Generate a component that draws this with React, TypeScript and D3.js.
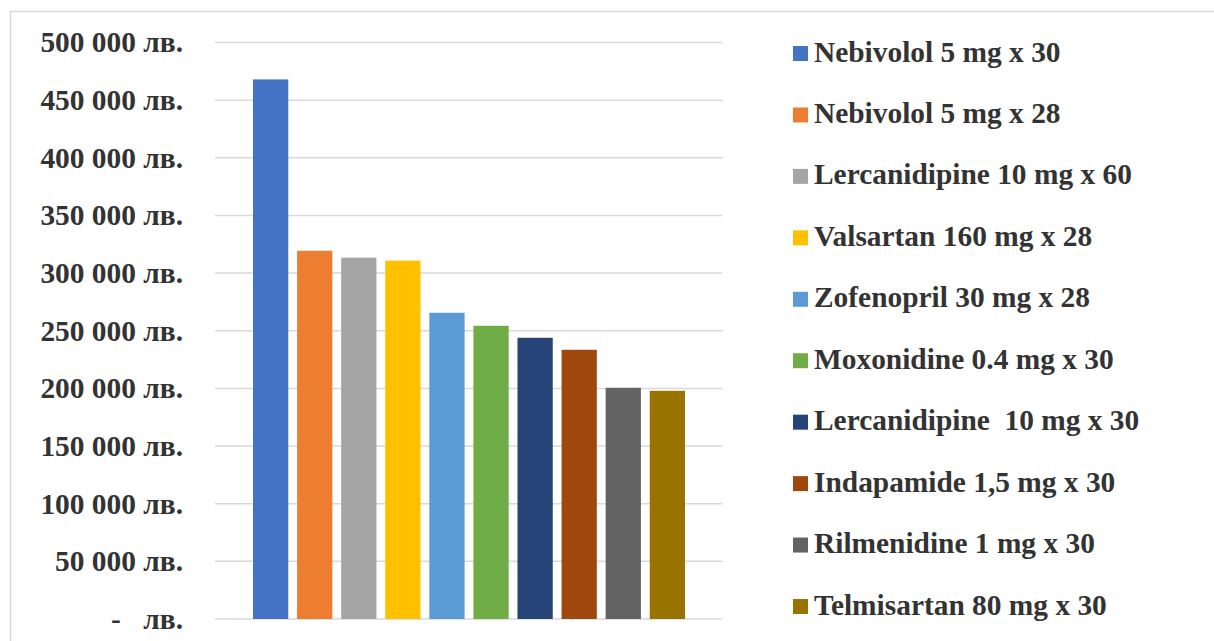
import React from "react";
import * as d3 from "d3";

const categories = [
  "Nebivolol 5 mg x 30",
  "Nebivolol 5 mg x 28",
  "Lercanidipine 10 mg x 60",
  "Valsartan 160 mg x 28",
  "Zofenopril 30 mg x 28",
  "Moxonidine 0.4 mg x 30",
  "Lercanidipine  10 mg x 30",
  "Indapamide 1,5 mg x 30",
  "Rilmenidine 1 mg x 30",
  "Telmisartan 80 mg x 30",
];
const values = [468000, 319400, 313400, 310800, 265600, 254300, 243900, 233500, 200500, 197900];
const colors = ["#4472C4", "#ED7D31", "#A5A5A5", "#FFC000", "#5B9BD5", "#70AD47", "#264478", "#9E480E", "#636363", "#997300"];
const yTicks = [0, 50000, 100000, 150000, 200000, 250000, 300000, 350000, 400000, 450000, 500000];

const W = 1214;
const H = 641;
const FONT = "'Liberation Serif', 'Times New Roman', serif";
const TXT = "#333333";
const FS = 29.4;

function fmt(v: number): string {
  if (v === 0) return "";
  const s = String(v);
  return s.replace(/\B(?=(\d{3})+(?!\d))/g, " ") + " лв.";
}

export default function App() {
  const y = d3.scaleLinear().domain([0, 500000]).range([619, 42.5]);
  const x = d3.scaleBand<string>().domain(categories).range([253, 685]).paddingInner(0.2).paddingOuter(0);
  const legendY = d3.scalePoint<string>().domain(categories).range([53.5, 606.5]);
  const gridX0 = 215;
  const gridX1 = 722.5;

  return (
    <svg width={W} height={H} style={{ position: "absolute", left: 0, top: 0, background: "#fff" }}>
      <rect x={10.5} y={11.5} width={1300} height={800} fill="#fff" stroke="#d9d9d9" strokeWidth={1.5} />
      {yTicks.map((t) => (
        <line key={"g" + t} x1={gridX0} x2={gridX1} y1={y(t)} y2={y(t)} stroke="#d9d9d9" strokeWidth={1.5} />
      ))}
      {categories.map((c, i) => (
        <rect key={"b" + c} x={x(c)} y={y(values[i])} width={x.bandwidth()} height={y(0) - y(values[i])} fill={colors[i]} />
      ))}
      {yTicks.map((t) => (
        <text
          key={"t" + t}
          x={183}
          y={y(t)}
          dy="0.34em"
          textAnchor="end"
          fontFamily={FONT}
          fontWeight="bold"
          fontSize={FS}
          fill={TXT}
        >
          {t === 0 ? "лв." : fmt(t)}
        </text>
      ))}
      <text x={116} y={y(0)} dy="0.34em" textAnchor="middle" fontFamily={FONT} fontWeight="bold" fontSize={FS} fill={TXT}>
        -
      </text>
      {categories.map((c, i) => (
        <g key={"l" + c}>
          <rect x={793} y={(legendY(c) as number) - 7.5} width={15} height={15} fill={colors[i]} />
          <text
            x={814}
            y={(legendY(c) as number) + 8}
            fontFamily={FONT}
            fontWeight="bold"
            fontSize={FS}
            fill={TXT}
            style={{ whiteSpace: "pre" }}
          >
            {c}
          </text>
        </g>
      ))}
    </svg>
  );
}
